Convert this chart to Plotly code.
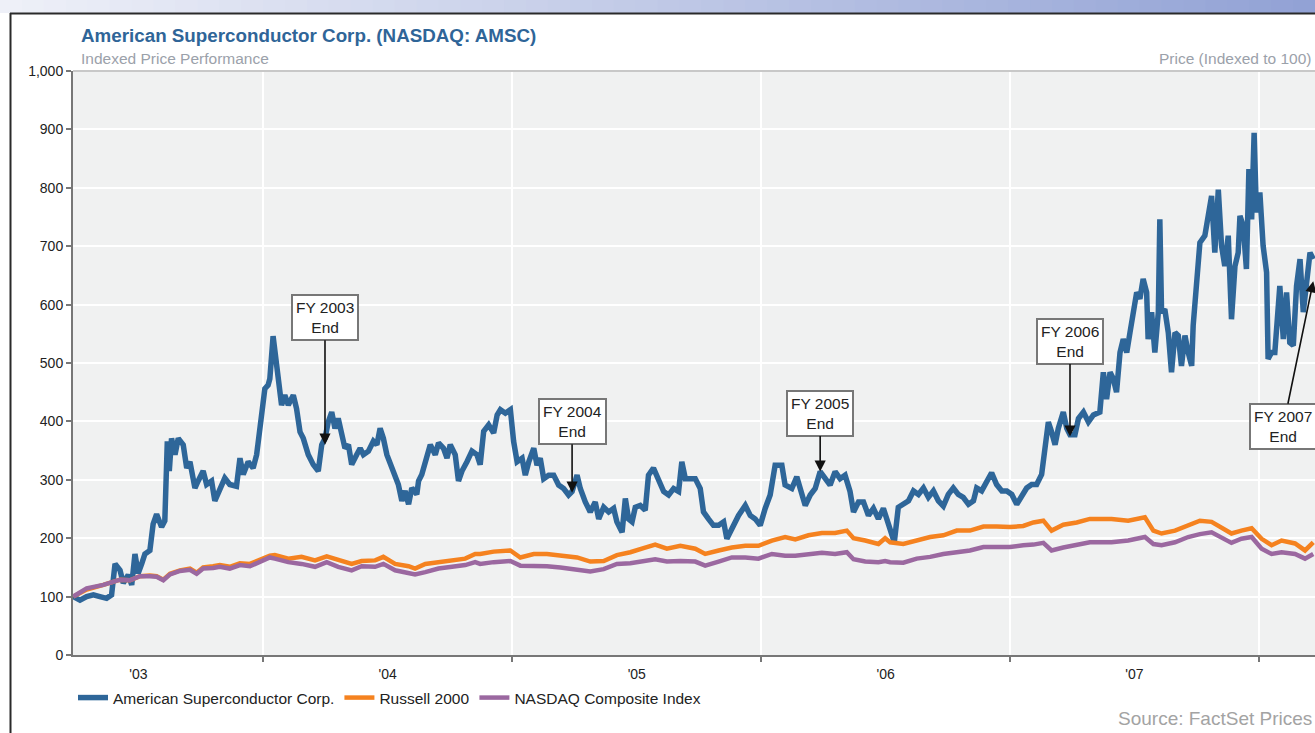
import pandas as pd
import plotly.graph_objects as go

# ---------------- DATA ----------------
# x values are decimal years
amsc_years = [
    2003.238, 2003.265, 2003.292, 2003.319, 2003.345, 2003.372, 2003.392, 2003.406, 2003.426, 2003.439,
    2003.459, 2003.473, 2003.486, 2003.499, 2003.513, 2003.526, 2003.546, 2003.559, 2003.573, 2003.593,
    2003.606, 2003.616, 2003.624, 2003.633, 2003.647, 2003.660, 2003.680, 2003.694, 2003.707, 2003.727,
    2003.740, 2003.760, 2003.774, 2003.794, 2003.807, 2003.827, 2003.847, 2003.867, 2003.894, 2003.908,
    2003.921, 2003.941, 2003.961, 2003.975, 2003.985, 2003.995, 2004.008, 2004.021, 2004.028, 2004.041,
    2004.061, 2004.075, 2004.088, 2004.102, 2004.122, 2004.135, 2004.149, 2004.162, 2004.182, 2004.202,
    2004.222, 2004.236, 2004.249, 2004.262, 2004.276, 2004.289, 2004.302, 2004.316, 2004.329, 2004.343,
    2004.356, 2004.376, 2004.390, 2004.403, 2004.423, 2004.443, 2004.457, 2004.470, 2004.483, 2004.497,
    2004.517, 2004.530, 2004.543, 2004.557, 2004.570, 2004.584, 2004.597, 2004.617, 2004.624, 2004.637,
    2004.657, 2004.671, 2004.691, 2004.704, 2004.724, 2004.738, 2004.751, 2004.771, 2004.784, 2004.798,
    2004.818, 2004.838, 2004.858, 2004.871, 2004.885, 2004.905, 2004.925, 2004.939, 2004.952, 2004.972,
    2004.992, 2005.005, 2005.019, 2005.039, 2005.052, 2005.066, 2005.086, 2005.099, 2005.112, 2005.126,
    2005.146, 2005.166, 2005.186, 2005.206, 2005.226, 2005.240, 2005.260, 2005.273, 2005.293, 2005.313,
    2005.333, 2005.347, 2005.367, 2005.387, 2005.407, 2005.420, 2005.441, 2005.454, 2005.467, 2005.481,
    2005.494, 2005.514, 2005.534, 2005.547, 2005.567, 2005.588, 2005.608, 2005.628, 2005.648, 2005.668,
    2005.681, 2005.695, 2005.715, 2005.735, 2005.755, 2005.768, 2005.788, 2005.808, 2005.829, 2005.849,
    2005.862, 2005.882, 2005.909, 2005.936, 2005.956, 2005.976, 2005.996, 2006.016, 2006.036, 2006.056,
    2006.083, 2006.096, 2006.123, 2006.143, 2006.163, 2006.177, 2006.197, 2006.217, 2006.237, 2006.257,
    2006.277, 2006.297, 2006.317, 2006.337, 2006.357, 2006.371, 2006.391, 2006.411, 2006.431, 2006.451,
    2006.471, 2006.491, 2006.505, 2006.518, 2006.535, 2006.551, 2006.571, 2006.592, 2006.612, 2006.632,
    2006.652, 2006.672, 2006.692, 2006.712, 2006.732, 2006.752, 2006.772, 2006.792, 2006.812, 2006.833,
    2006.853, 2006.866, 2006.886, 2006.906, 2006.926, 2006.946, 2006.967, 2006.987, 2007.007, 2007.027,
    2007.047, 2007.067, 2007.087, 2007.107, 2007.127, 2007.141, 2007.154, 2007.167, 2007.181, 2007.194,
    2007.214, 2007.228, 2007.241, 2007.261, 2007.275, 2007.295, 2007.315, 2007.335, 2007.361, 2007.375,
    2007.388, 2007.402, 2007.415, 2007.428, 2007.442, 2007.455, 2007.469, 2007.482, 2007.495, 2007.509,
    2007.522, 2007.535, 2007.549, 2007.555, 2007.569, 2007.582, 2007.596, 2007.602, 2007.609, 2007.622,
    2007.636, 2007.649, 2007.663, 2007.676, 2007.689, 2007.703, 2007.716, 2007.730, 2007.736, 2007.750,
    2007.763, 2007.783, 2007.796, 2007.810, 2007.823, 2007.837, 2007.850, 2007.863, 2007.877, 2007.890,
    2007.904, 2007.917, 2007.924, 2007.937, 2007.950, 2007.960, 2007.971, 2007.981, 2007.990, 2008.004,
    2008.017, 2008.031, 2008.037, 2008.051, 2008.064, 2008.084, 2008.098, 2008.111, 2008.124, 2008.138,
    2008.151, 2008.165, 2008.178, 2008.191, 2008.205, 2008.218,
]
amsc_values = [
    100, 94, 100, 103, 100, 97, 103, 156, 145, 123,
    137, 120, 173, 140, 156, 173, 179, 224, 241, 219,
    230, 366, 315, 371, 343, 371, 360, 320, 331, 286,
    298, 315, 292, 298, 264, 286, 303, 292, 289, 337,
    309, 331, 320, 343, 377, 405, 456, 462, 473, 546,
    467, 428, 445, 428, 445, 422, 382, 371, 343, 326,
    315, 360, 371, 399, 416, 388, 405, 382, 354, 360,
    326, 343, 354, 343, 349, 366, 360, 388, 371, 343,
    320, 309, 292, 264, 281, 258, 286, 275, 298, 309,
    337, 360, 343, 363, 354, 337, 360, 343, 298, 315,
    331, 349, 343, 326, 383, 394, 380, 411, 420, 414,
    420, 366, 331, 337, 308, 331, 354, 325, 337, 302,
    308, 308, 291, 285, 274, 280, 308, 285, 262, 245,
    262, 233, 253, 245, 251, 228, 210, 268, 233, 228,
    253, 256, 248, 308, 320, 297, 280, 274, 285, 280,
    331, 302, 302, 302, 285, 245, 233, 222, 222, 228,
    199, 216, 239, 256, 239, 233, 222, 251, 274, 325,
    325, 291, 285, 305, 274, 256, 274, 285, 314, 302,
    291, 314, 302, 308, 280, 245, 262, 262, 239, 251,
    233, 251, 233, 222, 193, 253, 258, 264, 281, 275,
    286, 270, 281, 264, 255, 275, 286, 275, 270, 258,
    264, 286, 281, 298, 312, 292, 281, 281, 275, 258,
    270, 286, 292, 292, 309, 360, 399, 382, 360, 388,
    416, 388, 377, 377, 405, 416, 399, 411, 416, 484,
    438, 484, 473, 450, 518, 541, 518, 552, 587, 621,
    610, 644, 621, 541, 587, 518, 587, 746, 587, 592,
    552, 484, 552, 547, 495, 547, 518, 495, 564, 632,
    706, 718, 746, 786, 689, 797, 701, 666, 718, 575,
    666, 689, 752, 735, 661, 832, 746, 894, 758, 792,
    701, 655, 507, 518, 518, 632, 541, 621, 535, 530,
    632, 678, 587, 644, 689, 678,
]

index_years = [
    2003.238, 2003.292, 2003.359, 2003.399, 2003.426, 2003.466, 2003.506, 2003.546, 2003.573, 2003.600,
    2003.627, 2003.667, 2003.707, 2003.734, 2003.760, 2003.800, 2003.827, 2003.867, 2003.908, 2003.948,
    2003.988, 2004.028, 2004.048, 2004.102, 2004.155, 2004.209, 2004.256, 2004.302, 2004.356, 2004.396,
    2004.450, 2004.483, 2004.530, 2004.584, 2004.610, 2004.651, 2004.704, 2004.758, 2004.811, 2004.851,
    2004.871, 2004.925, 2004.992, 2005.032, 2005.086, 2005.139, 2005.193, 2005.260, 2005.313, 2005.367,
    2005.420, 2005.474, 2005.527, 2005.574, 2005.621, 2005.675, 2005.735, 2005.775, 2005.829, 2005.882,
    2005.936, 2005.989, 2006.043, 2006.096, 2006.137, 2006.190, 2006.244, 2006.297, 2006.344, 2006.371,
    2006.418, 2006.471, 2006.498, 2006.518, 2006.571, 2006.625, 2006.679, 2006.732, 2006.786, 2006.839,
    2006.893, 2006.946, 2007.000, 2007.053, 2007.094, 2007.134, 2007.167, 2007.214, 2007.268, 2007.321,
    2007.408, 2007.475, 2007.542, 2007.576, 2007.609, 2007.663, 2007.716, 2007.763, 2007.810, 2007.850,
    2007.890, 2007.930, 2007.971, 2008.011, 2008.051, 2008.091, 2008.145, 2008.185, 2008.218,
]
russell_values = [
    100, 112, 120, 125, 129, 128, 135, 136, 135, 129,
    139, 145, 148, 141, 150, 152, 154, 151, 157, 156,
    163, 170, 171, 165, 168, 162, 169, 163, 156, 161,
    162, 168, 156, 152, 148, 156, 159, 162, 165, 173,
    173, 177, 179, 167, 173, 173, 170, 167, 160, 161,
    171, 176, 183, 189, 182, 187, 182, 173, 179, 184,
    187, 187, 196, 202, 198, 205, 209, 209, 213, 200,
    196, 190, 200, 193, 190, 196, 202, 205, 213, 213,
    220, 220, 219, 221, 227, 230, 213, 223, 227, 233,
    233, 230, 236, 213, 208, 213, 222, 230, 228, 219,
    208, 213, 217, 199, 188, 196, 191, 179, 193,
]
nasdaq_values = [
    100, 114, 120, 125, 129, 128, 135, 135, 134, 128,
    138, 144, 146, 139, 148, 149, 151, 148, 154, 152,
    159, 167, 165, 159, 156, 151, 159, 151, 145, 152,
    151, 156, 145, 141, 138, 142, 148, 151, 154, 159,
    156, 159, 161, 153, 153, 152, 150, 147, 143, 147,
    156, 157, 160, 164, 160, 161, 160, 153, 160, 167,
    167, 165, 173, 170, 170, 173, 175, 173, 176, 164,
    160, 159, 161, 159, 158, 165, 168, 173, 176, 179,
    185, 185, 185, 188, 189, 192, 179, 184, 188, 193,
    193, 196, 202, 190, 188, 193, 202, 207, 210, 200,
    192, 199, 202, 182, 173, 176, 173, 165, 173,
]

series_names = ["American Superconductor Corp.", "Russell 2000", "NASDAQ Composite Index"]
tick_labels_fmt = "'%y"

# fiscal-year-end annotations: (decimal year, value pointed at, label)
fy_years = [2004.249, 2005.240, 2006.237, 2007.241, 2008.218]
fy_values = [360, 278, 314, 374, 640]
fy_labels = ["FY 2003<br>End", "FY 2004<br>End", "FY 2005<br>End", "FY 2006<br>End", "FY 2007<br>End"]


def dy(y):
    yr = int(y)
    start = pd.Timestamp(yr, 1, 1)
    end = pd.Timestamp(yr + 1, 1, 1)
    return start + (end - start) * (y - yr)


# ---------------- LAYOUT GEOMETRY ----------------
W, H = 1315, 733
L, R, T, B = 73, 1315, 71, 655


def px(x):
    return (x - L) / (R - L)


def py(y):
    return (B - y) / (B - T)


FONT = "Liberation Sans, Arial, sans-serif"
BLUE = "#2e6699"
ORANGE = "#f5821f"
PURPLE = "#9b68a0"

fig = go.Figure()
fig.add_trace(go.Scatter(x=[dy(v) for v in amsc_years], y=amsc_values, mode="lines",
                         name=series_names[0], line=dict(color=BLUE, width=5.5)))
fig.add_trace(go.Scatter(x=[dy(v) for v in index_years], y=russell_values, mode="lines",
                         name=series_names[1], line=dict(color=ORANGE, width=4.5)))
fig.add_trace(go.Scatter(x=[dy(v) for v in index_years], y=nasdaq_values, mode="lines",
                         name=series_names[2], line=dict(color=PURPLE, width=4.5)))

# annotation box offsets (pixels)
offsets = [(0, -127), (0, -71), (0, -58), (0, -95), (-30, 145)]
annotations = []
for (yv, val, lab, (axo, ayo)) in zip(fy_years, fy_values, fy_labels, offsets):
    annotations.append(dict(
        x=dy(yv), y=val, xref="x", yref="y", text=lab, showarrow=True,
        ax=axo, ay=ayo, arrowhead=2, arrowsize=1.4, arrowwidth=1.6, arrowcolor="#111",
        bgcolor="white", bordercolor="#777", borderwidth=2, borderpad=3,
        font=dict(family=FONT, size=15.5, color="#222"), align="center"))

annotations += [
    dict(x=px(79), y=py(36), xref="paper", yref="paper", xanchor="left", yanchor="middle",
         text="<b>American Superconductor Corp. (NASDAQ: AMSC)</b>", showarrow=False,
         font=dict(family=FONT, size=18.8, color="#2f6598")),
    dict(x=px(79), y=py(59), xref="paper", yref="paper", xanchor="left", yanchor="middle",
         text="Indexed Price Performance", showarrow=False,
         font=dict(family=FONT, size=15.5, color="#9ba1aa")),
    dict(x=px(1314), y=py(59), xref="paper", yref="paper", xanchor="right", yanchor="middle",
         text="Price (Indexed to 100)", showarrow=False,
         font=dict(family=FONT, size=15.5, color="#9ba1aa")),
    dict(x=px(1314), y=py(718), xref="paper", yref="paper", xanchor="right", yanchor="middle",
         text="Source: FactSet Prices", showarrow=False,
         font=dict(family=FONT, size=19, color="#a3a3a3")),
]

shapes = []
# gradient band at top
n = 60
c0 = (238, 240, 248)
c1 = (146, 162, 213)
for i in range(n):
    x0 = W * i / n
    x1 = W * (i + 1) / n + 1
    t = i / (n - 1)
    col = "rgb(%d,%d,%d)" % tuple(int(round(a + (b - a) * t)) for a, b in zip(c0, c1))
    shapes.append(dict(type="rect", xref="paper", yref="paper", x0=px(x0), x1=px(x1),
                       y0=py(13), y1=py(0), fillcolor=col, line=dict(width=0), layer="above"))
# dark frame
shapes.append(dict(type="line", xref="paper", yref="paper", x0=px(10), x1=px(W), y0=py(13.5), y1=py(13.5),
                   line=dict(color="#2a2a2a", width=2), layer="above"))
shapes.append(dict(type="line", xref="paper", yref="paper", x0=px(10.5), x1=px(10.5), y0=py(13), y1=py(H),
                   line=dict(color="#2a2a2a", width=2), layer="above"))
# light top border of plot area
shapes.append(dict(type="line", xref="paper", yref="paper", x0=0, x1=1, y0=1, y1=1,
                   line=dict(color="#c8c8c8", width=2), layer="above"))

fig.update_layout(
    width=W, height=H,
    margin=dict(l=L, r=W - R, t=T, b=H - B, pad=0),
    paper_bgcolor="white", plot_bgcolor="#f0f1f1",
    font=dict(family=FONT, size=14, color="#222"),
    showlegend=True,
    legend=dict(orientation="h", x=px(73), y=py(681), xanchor="left", yanchor="top",
                font=dict(family=FONT, size=15.5, color="#222"), bgcolor="rgba(0,0,0,0)",
                itemwidth=30, tracegroupgap=0),
    annotations=annotations,
    shapes=shapes,
    xaxis=dict(type="date", range=[dy(2003.237), dy(2008.225)],
               tick0="2003-01-01", dtick="M12", tickformat=tick_labels_fmt, ticklabelmode="period",
               showgrid=True, gridcolor="white", gridwidth=2,
               ticks="outside", ticklen=5, tickwidth=2, tickcolor="#777",
               showline=True, linecolor="#777", linewidth=2, zeroline=False,
               tickfont=dict(family=FONT, size=14, color="#222")),
    yaxis=dict(range=[0, 1000], dtick=100, tickformat=",",
               showgrid=True, gridcolor="white", gridwidth=2,
               ticks="outside", ticklen=5, tickwidth=2, tickcolor="#777",
               showline=True, linecolor="#777", linewidth=2, zeroline=False,
               tickfont=dict(family=FONT, size=14, color="#222")),
)

fig.write_html("out.html",
               config={"displayModeBar": False},
               post_script="document.body.style.margin='0px';document.body.style.padding='0px';")
